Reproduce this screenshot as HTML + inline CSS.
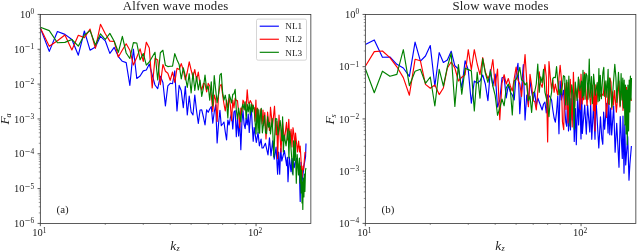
<!DOCTYPE html>
<html><head><meta charset="utf-8"><title>Alfven and slow wave modes</title>
<style>
html,body{margin:0;padding:0;background:#fff;}
body{width:637px;height:252px;overflow:hidden;}
svg{display:block;}
text{font-family:"Liberation Serif","DejaVu Serif",serif;fill:#222;}
.tk{font-size:10.5px;}
.sup{font-size:7.4px;}
.mn{font-family:"DejaVu Serif","Liberation Serif",serif;font-size:7.2px;}
.sub{font-size:8.2px;font-style:italic;}
.tt{font-size:12.8px;letter-spacing:0.2px;}
.it{font-size:13.3px;font-style:italic;}
.pl{font-size:10.9px;}
.lg{font-size:9.2px;}
</style></head><body>
<svg width="637" height="252" viewBox="0 0 637 252">
<rect width="100%" height="100%" fill="#fff"/>
<defs><clipPath id="c1"><rect x="40.35" y="14.45" width="270.5" height="208.95000000000002"/></clipPath><clipPath id="c2"><rect x="365.35" y="14.45" width="270.5" height="208.95000000000002"/></clipPath></defs>
<g clip-path="url(#c1)">
<polyline points="40.35,28.00 49.28,51.40 57.43,31.50 64.93,34.40 71.87,39.50 78.33,55.20 84.38,31.00 90.06,50.20 95.41,47.00 100.48,36.30 105.28,40.80 109.85,53.40 114.21,47.40 118.37,56.60 122.36,61.30 126.19,62.60 129.86,85.50 133.40,49.20 136.80,78.50 140.09,76.00 143.27,70.90 146.34,70.00 149.31,64.00 152.19,75.00 154.99,85.00 157.71,88.75 160.34,76.20 162.91,82.50 165.41,105.90 167.84,85.80 170.21,83.30 172.53,83.75 174.78,70.75 176.99,110.90 179.14,85.40 181.25,90.80 183.31,107.60 185.32,86.25 187.29,115.00 189.23,96.00 191.12,112.00 192.97,115.00 194.79,95.00 196.58,111.00 198.33,123.50 200.05,110.00 201.73,109.80 203.39,117.00 205.02,125.00 206.62,109.80 208.20,112.30 209.75,109.00 211.27,106.50 212.77,123.25 214.24,112.00 215.70,104.80 217.13,143.00 218.53,124.00 219.92,110.25 221.29,125.75 222.64,124.00 223.97,122.00 225.28,132.00 226.57,140.00 227.84,120.00 229.10,125.00 230.34,118.00 231.57,113.20 232.77,129.00 233.97,112.00 235.15,110.70 236.31,136.60 237.46,118.00 238.60,136.00 239.72,120.00 240.83,149.70 241.92,122.00 243.00,110.70 244.07,124.00 245.13,128.70 246.18,118.00 247.22,125.00 248.24,114.00 249.25,132.40 250.25,118.00 251.24,107.00 252.23,125.00 253.20,141.30 254.20,127.45 256.31,142.32 258.05,132.61 259.37,145.81 261.08,139.08 262.00,148.00 263.15,147.97 265.43,143.35 268.00,155.00 269.47,137.89 271.00,155.75 272.67,140.88 274.22,159.20 276.08,147.04 277.60,174.20 278.60,152.00 279.70,174.20 280.71,148.36 281.75,161.00 284.40,150.58 286.66,165.60 287.35,157.38 288.00,181.70 289.30,157.09 291.00,171.70 291.88,158.36 292.50,173.80 293.46,158.41 294.23,167.66 296.37,158.35 298.15,168.08 299.18,163.60 300.20,201.40 301.04,162.21 301.94,182.99 304.06,165.34 305.54,156.98 306.00,143.50" fill="none" stroke="#0000ff" stroke-width="1.15" stroke-linejoin="round" stroke-linecap="butt"/>
<polyline points="40.35,28.00 49.28,46.30 57.43,40.80 64.93,35.00 71.87,49.90 78.33,35.30 84.38,37.60 90.06,29.10 95.41,48.30 100.48,24.30 105.28,33.80 109.85,41.10 114.21,41.40 118.37,57.00 122.36,50.00 126.19,43.80 129.86,50.20 133.40,65.00 136.80,57.20 140.09,48.90 143.27,61.40 146.34,42.20 149.31,48.00 152.19,87.90 154.99,58.20 157.71,60.00 160.34,84.60 162.91,64.50 165.41,71.20 167.84,73.20 170.21,80.30 172.53,72.00 174.78,82.40 176.99,68.25 179.14,69.50 181.25,63.60 183.31,70.00 185.32,80.00 187.29,72.00 189.23,61.90 191.12,70.00 192.97,77.00 194.79,69.50 196.58,80.00 198.33,72.00 200.05,85.00 201.73,90.00 203.39,83.40 205.02,84.00 206.62,92.00 208.20,83.40 209.75,86.00 211.27,95.00 212.77,111.50 214.24,95.00 215.70,100.00 217.13,121.50 218.53,95.00 219.92,86.00 221.29,84.25 222.64,95.00 223.97,104.00 225.28,111.00 226.57,100.00 227.84,108.00 229.10,98.00 230.34,105.00 231.57,120.70 232.77,100.00 233.97,108.00 235.15,98.00 236.31,100.60 237.46,100.60 238.60,112.00 239.72,127.80 240.83,108.00 241.92,112.00 243.00,100.20 244.07,102.50 245.13,110.00 246.18,106.00 247.22,89.75 248.24,102.50 249.25,103.50 250.25,100.60 251.24,102.50 252.23,105.00 253.20,108.00 254.20,107.62 255.08,121.22 255.90,100.00 256.61,120.87 257.55,108.14 259.47,122.18 260.86,109.03 262.11,124.00 263.00,110.00 263.72,125.37 264.79,112.57 266.00,139.00 267.61,112.19 269.44,130.45 270.50,107.20 272.48,126.71 274.50,106.20 275.98,134.81 276.88,121.43 277.60,158.70 279.00,115.00 281.00,152.00 282.54,121.48 284.33,140.34 286.53,122.23 287.54,140.01 288.80,119.30 289.78,140.83 291.11,129.24 291.97,147.00 293.00,127.70 293.98,134.86 294.89,150.23 295.50,133.00 297.50,152.00 298.60,141.00 299.60,152.00 300.20,146.00 302.00,177.00 303.00,166.00 303.50,170.00 305.00,152.50 306.00,152.00" fill="none" stroke="#ff0000" stroke-width="1.15" stroke-linejoin="round" stroke-linecap="butt"/>
<polyline points="40.35,27.20 49.28,30.60 57.43,42.70 64.93,42.40 71.87,39.50 78.33,46.10 84.38,35.00 90.06,30.60 95.41,45.00 100.48,33.80 105.28,39.50 109.85,33.40 114.21,41.30 118.37,52.30 122.36,36.30 126.19,53.00 129.86,58.50 133.40,42.60 136.80,43.00 140.09,59.80 143.27,53.50 146.34,65.20 149.31,62.00 152.19,57.00 154.99,52.30 157.71,80.00 160.34,52.75 162.91,50.25 165.41,65.30 167.84,66.60 170.21,66.30 172.53,66.20 174.78,53.60 176.99,59.80 179.14,64.50 181.25,79.00 183.31,67.80 185.32,76.00 187.29,87.50 189.23,73.70 191.12,93.00 192.97,72.80 194.79,90.40 196.58,76.60 198.33,90.00 200.05,80.00 201.73,96.40 203.39,88.00 205.02,75.10 206.62,89.30 208.20,86.00 209.75,100.20 211.27,81.75 212.77,106.00 214.24,75.50 215.70,90.00 217.13,102.70 218.53,94.00 219.92,75.00 221.29,73.40 222.64,92.70 223.97,100.20 225.28,95.20 226.57,102.70 227.84,118.00 229.10,94.30 230.34,98.00 231.57,103.00 232.77,94.30 233.97,93.90 235.15,89.30 236.31,110.00 237.46,119.00 238.60,108.00 239.72,115.00 240.83,122.00 241.92,108.00 243.00,104.00 244.07,110.00 245.13,101.80 246.18,119.00 247.22,104.00 248.24,112.00 249.25,103.00 250.25,115.00 251.24,104.00 252.23,112.00 253.20,105.00 254.20,109.97 256.00,134.00 257.12,108.56 258.11,132.79 258.80,109.70 259.64,133.12 260.39,115.47 261.30,108.40 262.36,132.81 264.60,115.35 265.50,132.70 266.61,133.58 267.65,116.70 268.52,127.21 269.66,122.60 270.50,134.00 272.20,118.50 273.80,157.00 275.50,118.50 276.76,118.88 278.00,135.00 280.17,120.59 281.30,132.70 281.95,140.81 282.60,116.75 283.35,151.98 284.25,135.00 286.05,145.95 288.06,128.66 288.92,157.90 289.70,131.00 293.00,175.00 293.56,140.83 294.36,160.51 295.37,140.92 296.30,183.30 297.19,154.57 298.44,174.86 299.40,158.00 300.00,183.00 300.50,166.00 301.00,193.00 301.50,170.00 302.00,203.00 302.40,182.00 302.80,209.50 303.30,178.00 303.90,197.00 304.40,174.00 304.90,191.50 305.50,170.00 306.00,168.00" fill="none" stroke="#008000" stroke-width="1.15" stroke-linejoin="round" stroke-linecap="butt"/>
</g>
<g clip-path="url(#c2)">
<polyline points="365.35,44.60 374.28,39.90 382.43,57.30 389.93,57.00 396.87,64.30 403.33,68.00 409.38,76.30 415.06,42.10 420.41,61.10 425.48,56.00 430.28,45.60 434.85,86.30 439.21,52.60 443.37,62.50 447.36,60.10 451.19,51.20 454.86,65.80 458.40,69.00 461.80,88.00 465.09,60.80 468.27,70.00 471.34,103.20 474.31,81.00 477.19,83.00 479.99,81.00 482.71,75.00 485.34,84.00 487.91,100.70 490.41,69.60 492.84,86.00 495.21,74.00 497.53,107.00 499.78,100.00 501.99,77.90 504.14,77.00 506.25,98.00 508.31,85.00 510.32,92.00 512.29,95.00 514.23,100.00 516.12,74.70 517.97,63.25 519.79,113.75 521.58,88.00 523.33,64.50 525.05,120.00 526.73,95.00 528.39,105.00 530.02,80.20 531.62,92.00 533.20,100.00 534.75,92.30 536.27,106.00 537.77,98.00 539.24,102.00 540.70,106.00 542.13,110.00 543.53,104.00 544.92,102.00 546.29,113.00 547.64,94.80 548.97,95.70 550.28,97.50 551.57,100.00 552.84,110.00 554.10,118.00 555.34,122.20 556.57,112.00 557.77,96.00 558.97,133.80 560.15,81.00 561.31,100.00 562.46,95.00 563.46,90.20 565.77,122.14 566.75,126.30 567.67,87.76 568.49,130.92 569.63,106.48 570.47,129.86 570.94,98.70 572.19,120.00 573.30,91.35 574.25,141.40 575.39,108.47 576.30,144.75 577.58,98.63 578.61,124.86 579.72,93.17 581.00,139.00 581.75,92.61 582.33,133.45 584.72,105.06 586.30,134.07 587.58,105.12 589.80,131.93 590.67,103.59 591.75,139.30 593.52,105.40 595.00,139.30 595.99,99.34 598.80,148.00 600.48,116.94 601.80,138.36 602.80,144.30 603.63,111.98 604.64,129.18 606.61,103.28 608.07,133.07 608.82,102.82 609.80,134.70 610.65,108.03 611.69,134.88 613.66,105.75 615.10,152.25 616.71,123.35 619.00,167.30 620.25,116.47 622.30,158.50 622.97,115.96 624.00,173.20 624.80,124.86 625.70,165.00 627.72,136.69 629.00,180.25 629.90,164.00 631.40,146.00" fill="none" stroke="#0000ff" stroke-width="1.15" stroke-linejoin="round" stroke-linecap="butt"/>
<polyline points="365.35,66.20 374.28,51.60 382.43,51.00 389.93,57.60 396.87,66.80 403.33,77.60 409.38,95.20 415.06,59.30 420.41,60.80 425.48,84.40 430.28,88.30 434.85,85.00 439.21,94.60 443.37,88.00 447.36,68.00 451.19,62.00 454.86,68.00 458.40,81.00 461.80,77.20 465.09,74.70 468.27,49.70 471.34,69.60 474.31,49.70 477.19,64.00 479.99,74.70 482.71,57.60 485.34,72.00 487.91,78.50 490.41,74.00 492.84,59.50 495.21,86.00 497.53,69.00 499.78,119.70 501.99,83.00 504.14,74.70 506.25,84.00 508.31,78.50 510.32,86.00 512.29,91.00 514.23,78.50 516.12,67.00 517.97,80.00 519.79,84.00 521.58,96.50 523.33,75.00 525.05,54.50 526.73,81.00 528.39,106.70 530.02,74.30 531.62,85.00 533.20,100.70 534.75,101.50 536.27,110.00 537.77,92.00 539.24,71.80 540.70,84.00 542.13,87.30 543.53,78.00 544.92,64.50 546.29,77.00 547.64,142.00 548.97,61.60 550.28,77.00 551.57,89.00 552.84,80.00 554.10,92.30 555.34,84.00 556.57,90.00 557.77,95.00 558.97,78.00 560.15,65.30 561.31,78.00 562.46,122.00 563.70,129.70 564.70,83.30 565.92,109.51 566.99,82.36 568.00,123.00 568.91,104.92 570.28,79.36 572.20,127.00 573.40,72.25 574.63,106.40 575.55,87.95 577.84,98.06 578.91,79.64 580.18,109.35 581.00,74.20 582.16,104.01 582.94,89.08 583.64,99.80 584.25,72.25 585.12,79.52 587.03,105.44 588.27,84.19 590.64,104.70 592.28,85.07 593.61,110.75 594.49,86.60 595.00,131.00 595.80,84.81 596.66,104.47 598.48,80.76 600.15,96.53 601.56,93.65 603.18,95.57 604.63,81.77 606.50,117.50 608.38,89.01 609.25,104.44 609.80,77.75 611.01,82.19 611.85,109.12 612.62,91.72 613.54,104.97 614.57,90.50 616.37,112.12 619.00,81.00 619.99,106.94 621.94,85.33 623.00,110.35 624.00,84.80 625.32,102.20 626.46,87.33 628.28,102.97 629.74,94.42 631.30,101.00" fill="none" stroke="#ff0000" stroke-width="1.15" stroke-linejoin="round" stroke-linecap="butt"/>
<polyline points="365.35,68.70 374.28,92.70 382.43,71.20 389.93,76.30 396.87,74.40 403.33,49.70 409.38,85.70 415.06,71.20 420.41,69.30 425.48,83.30 430.28,77.00 434.85,106.00 439.21,69.30 443.37,86.10 447.36,67.00 451.19,53.10 454.86,106.40 458.40,64.60 461.80,94.30 465.09,68.30 468.27,69.60 471.34,70.90 474.31,110.90 477.19,72.20 479.99,98.20 482.71,58.60 485.34,73.00 487.91,82.30 490.41,70.90 492.84,86.00 495.21,95.60 497.53,115.30 499.78,108.00 501.99,99.00 504.14,105.80 506.25,88.00 508.31,84.00 510.32,89.30 512.29,115.00 514.23,81.00 516.12,79.30 517.97,75.00 519.79,67.40 521.58,80.00 523.33,81.00 525.05,85.00 526.73,82.70 528.39,100.70 530.02,96.00 531.62,112.50 533.20,93.00 534.75,91.50 536.27,84.00 537.77,64.10 539.24,92.30 540.70,76.80 542.13,82.70 543.53,69.30 544.92,92.00 546.29,98.00 547.64,105.00 548.97,116.70 550.28,100.00 551.57,92.30 552.84,78.50 554.10,77.25 555.34,77.70 556.57,66.60 557.77,81.80 558.97,94.80 560.15,89.00 561.31,94.80 562.46,85.00 563.46,75.69 564.70,76.70 565.67,104.91 566.75,80.00 567.81,104.90 568.86,75.98 570.00,126.00 571.71,84.83 573.41,98.79 574.25,129.25 575.26,82.19 577.01,100.41 578.40,77.00 579.81,90.77 581.50,81.15 582.36,97.72 583.00,70.30 583.57,95.83 584.54,74.58 585.09,99.12 585.90,73.30 587.00,75.84 588.03,99.11 589.25,59.00 590.14,97.30 591.43,76.54 592.37,103.55 593.60,74.20 595.42,95.11 597.20,82.50 598.07,101.78 598.90,68.60 599.50,100.67 600.27,75.37 601.38,98.74 602.87,72.69 603.80,67.40 604.70,96.31 605.90,80.80 606.85,97.18 608.11,69.29 608.79,103.98 609.70,78.30 611.87,107.22 613.14,86.71 614.80,64.40 615.91,77.48 616.84,102.32 618.48,72.29 620.23,105.81 621.10,73.50 622.00,100.00 622.80,78.00 623.50,108.00 624.20,80.00 624.90,125.00 625.50,85.00 626.10,134.00 626.70,90.00 627.30,144.70 627.90,85.00 628.60,131.00 629.20,80.00 629.80,112.00 630.40,76.00 631.00,100.00 631.50,78.00" fill="none" stroke="#008000" stroke-width="1.15" stroke-linejoin="round" stroke-linecap="butt"/>
</g>
<rect x="40.35" y="14.45" width="270.5" height="208.95000000000002" fill="none" stroke="#333" stroke-width="0.8"/>
<line x1="40.35" y1="223.4" x2="40.35" y2="226.20000000000002" stroke="#333" stroke-width="0.8"/>
<line x1="256.05" y1="223.4" x2="256.05" y2="226.20000000000002" stroke="#333" stroke-width="0.8"/>
<line x1="105.28" y1="223.4" x2="105.28" y2="225.0" stroke="#444" stroke-width="0.55"/>
<line x1="143.27" y1="223.4" x2="143.27" y2="225.0" stroke="#444" stroke-width="0.55"/>
<line x1="170.21" y1="223.4" x2="170.21" y2="225.0" stroke="#444" stroke-width="0.55"/>
<line x1="191.12" y1="223.4" x2="191.12" y2="225.0" stroke="#444" stroke-width="0.55"/>
<line x1="208.20" y1="223.4" x2="208.20" y2="225.0" stroke="#444" stroke-width="0.55"/>
<line x1="222.64" y1="223.4" x2="222.64" y2="225.0" stroke="#444" stroke-width="0.55"/>
<line x1="235.15" y1="223.4" x2="235.15" y2="225.0" stroke="#444" stroke-width="0.55"/>
<line x1="246.18" y1="223.4" x2="246.18" y2="225.0" stroke="#444" stroke-width="0.55"/>
<line x1="37.550000000000004" y1="14.45" x2="40.35" y2="14.45" stroke="#333" stroke-width="0.8"/>
<line x1="38.75" y1="38.79" x2="40.35" y2="38.79" stroke="#444" stroke-width="0.55"/>
<line x1="38.75" y1="32.66" x2="40.35" y2="32.66" stroke="#444" stroke-width="0.55"/>
<line x1="38.75" y1="28.31" x2="40.35" y2="28.31" stroke="#444" stroke-width="0.55"/>
<line x1="38.75" y1="24.93" x2="40.35" y2="24.93" stroke="#444" stroke-width="0.55"/>
<line x1="38.75" y1="22.18" x2="40.35" y2="22.18" stroke="#444" stroke-width="0.55"/>
<line x1="38.75" y1="19.84" x2="40.35" y2="19.84" stroke="#444" stroke-width="0.55"/>
<line x1="38.75" y1="17.82" x2="40.35" y2="17.82" stroke="#444" stroke-width="0.55"/>
<line x1="38.75" y1="16.04" x2="40.35" y2="16.04" stroke="#444" stroke-width="0.55"/>
<line x1="37.550000000000004" y1="49.28" x2="40.35" y2="49.28" stroke="#333" stroke-width="0.8"/>
<line x1="38.75" y1="73.62" x2="40.35" y2="73.62" stroke="#444" stroke-width="0.55"/>
<line x1="38.75" y1="67.48" x2="40.35" y2="67.48" stroke="#444" stroke-width="0.55"/>
<line x1="38.75" y1="63.13" x2="40.35" y2="63.13" stroke="#444" stroke-width="0.55"/>
<line x1="38.75" y1="59.76" x2="40.35" y2="59.76" stroke="#444" stroke-width="0.55"/>
<line x1="38.75" y1="57.00" x2="40.35" y2="57.00" stroke="#444" stroke-width="0.55"/>
<line x1="38.75" y1="54.67" x2="40.35" y2="54.67" stroke="#444" stroke-width="0.55"/>
<line x1="38.75" y1="52.65" x2="40.35" y2="52.65" stroke="#444" stroke-width="0.55"/>
<line x1="38.75" y1="50.87" x2="40.35" y2="50.87" stroke="#444" stroke-width="0.55"/>
<line x1="37.550000000000004" y1="84.10" x2="40.35" y2="84.10" stroke="#333" stroke-width="0.8"/>
<line x1="38.75" y1="108.44" x2="40.35" y2="108.44" stroke="#444" stroke-width="0.55"/>
<line x1="38.75" y1="102.31" x2="40.35" y2="102.31" stroke="#444" stroke-width="0.55"/>
<line x1="38.75" y1="97.96" x2="40.35" y2="97.96" stroke="#444" stroke-width="0.55"/>
<line x1="38.75" y1="94.58" x2="40.35" y2="94.58" stroke="#444" stroke-width="0.55"/>
<line x1="38.75" y1="91.83" x2="40.35" y2="91.83" stroke="#444" stroke-width="0.55"/>
<line x1="38.75" y1="89.49" x2="40.35" y2="89.49" stroke="#444" stroke-width="0.55"/>
<line x1="38.75" y1="87.47" x2="40.35" y2="87.47" stroke="#444" stroke-width="0.55"/>
<line x1="38.75" y1="85.69" x2="40.35" y2="85.69" stroke="#444" stroke-width="0.55"/>
<line x1="37.550000000000004" y1="118.93" x2="40.35" y2="118.93" stroke="#333" stroke-width="0.8"/>
<line x1="38.75" y1="143.27" x2="40.35" y2="143.27" stroke="#444" stroke-width="0.55"/>
<line x1="38.75" y1="137.13" x2="40.35" y2="137.13" stroke="#444" stroke-width="0.55"/>
<line x1="38.75" y1="132.78" x2="40.35" y2="132.78" stroke="#444" stroke-width="0.55"/>
<line x1="38.75" y1="129.41" x2="40.35" y2="129.41" stroke="#444" stroke-width="0.55"/>
<line x1="38.75" y1="126.65" x2="40.35" y2="126.65" stroke="#444" stroke-width="0.55"/>
<line x1="38.75" y1="124.32" x2="40.35" y2="124.32" stroke="#444" stroke-width="0.55"/>
<line x1="38.75" y1="122.30" x2="40.35" y2="122.30" stroke="#444" stroke-width="0.55"/>
<line x1="38.75" y1="120.52" x2="40.35" y2="120.52" stroke="#444" stroke-width="0.55"/>
<line x1="37.550000000000004" y1="153.75" x2="40.35" y2="153.75" stroke="#333" stroke-width="0.8"/>
<line x1="38.75" y1="178.09" x2="40.35" y2="178.09" stroke="#444" stroke-width="0.55"/>
<line x1="38.75" y1="171.96" x2="40.35" y2="171.96" stroke="#444" stroke-width="0.55"/>
<line x1="38.75" y1="167.61" x2="40.35" y2="167.61" stroke="#444" stroke-width="0.55"/>
<line x1="38.75" y1="164.23" x2="40.35" y2="164.23" stroke="#444" stroke-width="0.55"/>
<line x1="38.75" y1="161.48" x2="40.35" y2="161.48" stroke="#444" stroke-width="0.55"/>
<line x1="38.75" y1="159.14" x2="40.35" y2="159.14" stroke="#444" stroke-width="0.55"/>
<line x1="38.75" y1="157.12" x2="40.35" y2="157.12" stroke="#444" stroke-width="0.55"/>
<line x1="38.75" y1="155.34" x2="40.35" y2="155.34" stroke="#444" stroke-width="0.55"/>
<line x1="37.550000000000004" y1="188.57" x2="40.35" y2="188.57" stroke="#333" stroke-width="0.8"/>
<line x1="38.75" y1="212.92" x2="40.35" y2="212.92" stroke="#444" stroke-width="0.55"/>
<line x1="38.75" y1="206.78" x2="40.35" y2="206.78" stroke="#444" stroke-width="0.55"/>
<line x1="38.75" y1="202.43" x2="40.35" y2="202.43" stroke="#444" stroke-width="0.55"/>
<line x1="38.75" y1="199.06" x2="40.35" y2="199.06" stroke="#444" stroke-width="0.55"/>
<line x1="38.75" y1="196.30" x2="40.35" y2="196.30" stroke="#444" stroke-width="0.55"/>
<line x1="38.75" y1="193.97" x2="40.35" y2="193.97" stroke="#444" stroke-width="0.55"/>
<line x1="38.75" y1="191.95" x2="40.35" y2="191.95" stroke="#444" stroke-width="0.55"/>
<line x1="38.75" y1="190.17" x2="40.35" y2="190.17" stroke="#444" stroke-width="0.55"/>
<line x1="37.550000000000004" y1="223.40" x2="40.35" y2="223.40" stroke="#333" stroke-width="0.8"/>
<rect x="365.35" y="14.45" width="270.5" height="208.95000000000002" fill="none" stroke="#333" stroke-width="0.8"/>
<line x1="365.35" y1="223.4" x2="365.35" y2="226.20000000000002" stroke="#333" stroke-width="0.8"/>
<line x1="581.05" y1="223.4" x2="581.05" y2="226.20000000000002" stroke="#333" stroke-width="0.8"/>
<line x1="430.28" y1="223.4" x2="430.28" y2="225.0" stroke="#444" stroke-width="0.55"/>
<line x1="468.27" y1="223.4" x2="468.27" y2="225.0" stroke="#444" stroke-width="0.55"/>
<line x1="495.21" y1="223.4" x2="495.21" y2="225.0" stroke="#444" stroke-width="0.55"/>
<line x1="516.12" y1="223.4" x2="516.12" y2="225.0" stroke="#444" stroke-width="0.55"/>
<line x1="533.20" y1="223.4" x2="533.20" y2="225.0" stroke="#444" stroke-width="0.55"/>
<line x1="547.64" y1="223.4" x2="547.64" y2="225.0" stroke="#444" stroke-width="0.55"/>
<line x1="560.15" y1="223.4" x2="560.15" y2="225.0" stroke="#444" stroke-width="0.55"/>
<line x1="571.18" y1="223.4" x2="571.18" y2="225.0" stroke="#444" stroke-width="0.55"/>
<line x1="362.55" y1="14.45" x2="365.35" y2="14.45" stroke="#333" stroke-width="0.8"/>
<line x1="363.75" y1="50.96" x2="365.35" y2="50.96" stroke="#444" stroke-width="0.55"/>
<line x1="363.75" y1="41.76" x2="365.35" y2="41.76" stroke="#444" stroke-width="0.55"/>
<line x1="363.75" y1="35.24" x2="365.35" y2="35.24" stroke="#444" stroke-width="0.55"/>
<line x1="363.75" y1="30.18" x2="365.35" y2="30.18" stroke="#444" stroke-width="0.55"/>
<line x1="363.75" y1="26.04" x2="365.35" y2="26.04" stroke="#444" stroke-width="0.55"/>
<line x1="363.75" y1="22.54" x2="365.35" y2="22.54" stroke="#444" stroke-width="0.55"/>
<line x1="363.75" y1="19.51" x2="365.35" y2="19.51" stroke="#444" stroke-width="0.55"/>
<line x1="363.75" y1="16.84" x2="365.35" y2="16.84" stroke="#444" stroke-width="0.55"/>
<line x1="362.55" y1="66.69" x2="365.35" y2="66.69" stroke="#333" stroke-width="0.8"/>
<line x1="363.75" y1="103.20" x2="365.35" y2="103.20" stroke="#444" stroke-width="0.55"/>
<line x1="363.75" y1="94.00" x2="365.35" y2="94.00" stroke="#444" stroke-width="0.55"/>
<line x1="363.75" y1="87.47" x2="365.35" y2="87.47" stroke="#444" stroke-width="0.55"/>
<line x1="363.75" y1="82.41" x2="365.35" y2="82.41" stroke="#444" stroke-width="0.55"/>
<line x1="363.75" y1="78.28" x2="365.35" y2="78.28" stroke="#444" stroke-width="0.55"/>
<line x1="363.75" y1="74.78" x2="365.35" y2="74.78" stroke="#444" stroke-width="0.55"/>
<line x1="363.75" y1="71.75" x2="365.35" y2="71.75" stroke="#444" stroke-width="0.55"/>
<line x1="363.75" y1="69.08" x2="365.35" y2="69.08" stroke="#444" stroke-width="0.55"/>
<line x1="362.55" y1="118.93" x2="365.35" y2="118.93" stroke="#333" stroke-width="0.8"/>
<line x1="363.75" y1="155.44" x2="365.35" y2="155.44" stroke="#444" stroke-width="0.55"/>
<line x1="363.75" y1="146.24" x2="365.35" y2="146.24" stroke="#444" stroke-width="0.55"/>
<line x1="363.75" y1="139.71" x2="365.35" y2="139.71" stroke="#444" stroke-width="0.55"/>
<line x1="363.75" y1="134.65" x2="365.35" y2="134.65" stroke="#444" stroke-width="0.55"/>
<line x1="363.75" y1="130.51" x2="365.35" y2="130.51" stroke="#444" stroke-width="0.55"/>
<line x1="363.75" y1="127.02" x2="365.35" y2="127.02" stroke="#444" stroke-width="0.55"/>
<line x1="363.75" y1="123.99" x2="365.35" y2="123.99" stroke="#444" stroke-width="0.55"/>
<line x1="363.75" y1="121.32" x2="365.35" y2="121.32" stroke="#444" stroke-width="0.55"/>
<line x1="362.55" y1="171.16" x2="365.35" y2="171.16" stroke="#333" stroke-width="0.8"/>
<line x1="363.75" y1="207.67" x2="365.35" y2="207.67" stroke="#444" stroke-width="0.55"/>
<line x1="363.75" y1="198.48" x2="365.35" y2="198.48" stroke="#444" stroke-width="0.55"/>
<line x1="363.75" y1="191.95" x2="365.35" y2="191.95" stroke="#444" stroke-width="0.55"/>
<line x1="363.75" y1="186.89" x2="365.35" y2="186.89" stroke="#444" stroke-width="0.55"/>
<line x1="363.75" y1="182.75" x2="365.35" y2="182.75" stroke="#444" stroke-width="0.55"/>
<line x1="363.75" y1="179.25" x2="365.35" y2="179.25" stroke="#444" stroke-width="0.55"/>
<line x1="363.75" y1="176.22" x2="365.35" y2="176.22" stroke="#444" stroke-width="0.55"/>
<line x1="363.75" y1="173.55" x2="365.35" y2="173.55" stroke="#444" stroke-width="0.55"/>
<line x1="362.55" y1="223.40" x2="365.35" y2="223.40" stroke="#333" stroke-width="0.8"/>
<text x="34.15" y="18.15" text-anchor="end" class="tk">10<tspan dy="-3.7" class="sup">0</tspan></text>
<text x="34.15" y="52.98" text-anchor="end" class="tk">10<tspan dy="-3.7" class="sup"><tspan class="mn">−</tspan>1</tspan></text>
<text x="34.15" y="87.80" text-anchor="end" class="tk">10<tspan dy="-3.7" class="sup"><tspan class="mn">−</tspan>2</tspan></text>
<text x="34.15" y="122.63" text-anchor="end" class="tk">10<tspan dy="-3.7" class="sup"><tspan class="mn">−</tspan>3</tspan></text>
<text x="34.15" y="157.45" text-anchor="end" class="tk">10<tspan dy="-3.7" class="sup"><tspan class="mn">−</tspan>4</tspan></text>
<text x="34.15" y="192.27" text-anchor="end" class="tk">10<tspan dy="-3.7" class="sup"><tspan class="mn">−</tspan>5</tspan></text>
<text x="34.15" y="227.10" text-anchor="end" class="tk">10<tspan dy="-3.7" class="sup"><tspan class="mn">−</tspan>6</tspan></text>
<text x="359.15" y="18.15" text-anchor="end" class="tk">10<tspan dy="-3.7" class="sup">0</tspan></text>
<text x="359.15" y="70.39" text-anchor="end" class="tk">10<tspan dy="-3.7" class="sup"><tspan class="mn">−</tspan>1</tspan></text>
<text x="359.15" y="122.63" text-anchor="end" class="tk">10<tspan dy="-3.7" class="sup"><tspan class="mn">−</tspan>2</tspan></text>
<text x="359.15" y="174.86" text-anchor="end" class="tk">10<tspan dy="-3.7" class="sup"><tspan class="mn">−</tspan>3</tspan></text>
<text x="359.15" y="227.10" text-anchor="end" class="tk">10<tspan dy="-3.7" class="sup"><tspan class="mn">−</tspan>4</tspan></text>
<text x="32.35" y="236.30" class="tk">10<tspan dy="-3.7" class="sup">1</tspan></text>
<text x="248.05" y="236.30" class="tk">10<tspan dy="-3.7" class="sup">2</tspan></text>
<text x="357.35" y="236.30" class="tk">10<tspan dy="-3.7" class="sup">1</tspan></text>
<text x="573.05" y="236.30" class="tk">10<tspan dy="-3.7" class="sup">2</tspan></text>
<text x="175.60" y="10.1" text-anchor="middle" class="tt">Alfven wave modes</text>
<text x="500.60" y="10.1" text-anchor="middle" class="tt">Slow wave modes</text>
<text x="170.3" y="249.7" class="it">k</text>
<text x="176.6" y="251.4" class="sub">z</text>
<text x="495.3" y="249.7" class="it">k</text>
<text x="501.6" y="251.4" class="sub">z</text>
<text transform="translate(9.2,124.6) rotate(-90)" class="it">F</text>
<text transform="translate(11.0,117.5) rotate(-90)" class="sub">a</text>
<text transform="translate(334.2,124.6) rotate(-90)" class="it">F</text>
<text transform="translate(336.0,117.5) rotate(-90)" class="sub">s</text>
<text x="56.6" y="213.4" class="pl">(a)</text>
<text x="381.6" y="213.4" class="pl">(b)</text>
<rect x="256.5" y="19.1" width="50" height="41.1" rx="1.6" fill="#fff" fill-opacity="0.8" stroke="#ccc" stroke-width="0.8"/>
<line x1="259.7" y1="26.20" x2="278.9" y2="26.20" stroke="#0000ff" stroke-width="1.15"/>
<text x="285.3" y="29.40" class="lg">NL1</text>
<line x1="259.7" y1="39.25" x2="278.9" y2="39.25" stroke="#ff0000" stroke-width="1.15"/>
<text x="285.3" y="42.45" class="lg">NL2</text>
<line x1="259.7" y1="52.30" x2="278.9" y2="52.30" stroke="#008000" stroke-width="1.15"/>
<text x="285.3" y="55.50" class="lg">NL3</text>
</svg>
</body></html>
